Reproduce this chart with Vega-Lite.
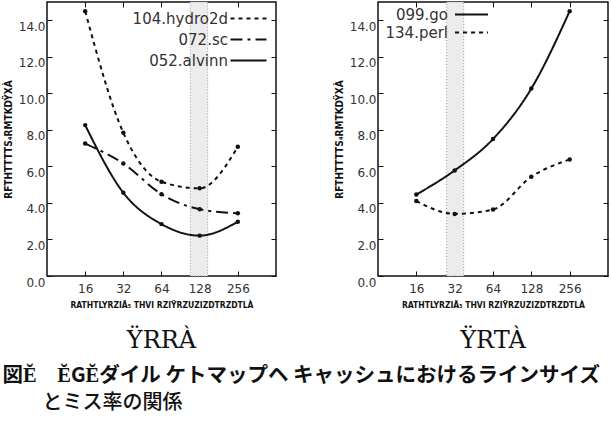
{
  "$schema": "https://vega.github.io/schema/vega-lite/v6.json",
  "padding": {"left": 2, "top": 0, "right": 0, "bottom": 0},
  "background": "white",
  "datasets": {
    "a": [
      {"size": 16, "missrate": 14.5, "bench": "104.hydro2d"},
      {"size": 32, "missrate": 7.84, "bench": "104.hydro2d"},
      {"size": 64, "missrate": 5.16, "bench": "104.hydro2d"},
      {"size": 128, "missrate": 4.8, "bench": "104.hydro2d"},
      {"size": 256, "missrate": 7.07, "bench": "104.hydro2d"},
      {"size": 16, "missrate": 7.25, "bench": "072.sc"},
      {"size": 32, "missrate": 6.16, "bench": "072.sc"},
      {"size": 64, "missrate": 4.48, "bench": "072.sc"},
      {"size": 128, "missrate": 3.65, "bench": "072.sc"},
      {"size": 256, "missrate": 3.43, "bench": "072.sc"},
      {"size": 16, "missrate": 8.26, "bench": "052.alvinn"},
      {"size": 32, "missrate": 4.56, "bench": "052.alvinn"},
      {"size": 64, "missrate": 2.84, "bench": "052.alvinn"},
      {"size": 128, "missrate": 2.21, "bench": "052.alvinn"},
      {"size": 256, "missrate": 2.97, "bench": "052.alvinn"}
    ],
    "b": [
      {"size": 16, "missrate": 4.46, "bench": "099.go"},
      {"size": 32, "missrate": 5.78, "bench": "099.go"},
      {"size": 64, "missrate": 7.5, "bench": "099.go"},
      {"size": 128, "missrate": 10.26, "bench": "099.go"},
      {"size": 256, "missrate": 14.5, "bench": "099.go"},
      {"size": 16, "missrate": 4.1, "bench": "134.perl"},
      {"size": 32, "missrate": 3.4, "bench": "134.perl"},
      {"size": 64, "missrate": 3.64, "bench": "134.perl"},
      {"size": 128, "missrate": 5.43, "bench": "134.perl"},
      {"size": 256, "missrate": 6.38, "bench": "134.perl"}
    ],
    "bandA": [{"lo": 108, "hi": 148}],
    "bandB": [{"lo": 27.7, "hi": 37.7}]
  },
  "title": {
    "text": "図Ĕ　ĔGĔダイル ケトマップヘ キャッシュにおけるラインサイズ",
    "subtitle": "\u200b\u3000\u3000とミス率の関係",
    "orient": "bottom",
    "anchor": "start",
    "font": "Noto Sans CJK JP",
    "fontSize": 20.5,
    "fontWeight": "bold",
    "color": "#111",
    "subtitleFont": "Noto Sans CJK JP",
    "subtitleFontSize": 20,
    "subtitleFontWeight": 500,
    "subtitleColor": "#111",
    "subtitlePadding": 6,
    "offset": 13
  },
  "spacing": 55,
  "resolve": {"scale": {"strokeDash": "independent"}, "legend": {"strokeDash": "independent"}},
  "hconcat": [
    {
      "width": 229,
      "height": 274,
      "title": {"text": "ŸRRÀ", "orient": "bottom", "font": "DejaVu Serif", "fontSize": 24, "fontWeight": "normal", "color": "#111", "offset": 20},
      "resolve": {"axis": {"x": "independent", "y": "independent"}},
      "layer": [
        {
          "data": {"name": "bandA"},
          "mark": {"type": "rect", "fill": "#ececec", "stroke": "#999", "strokeDash": [1, 2], "strokeWidth": 1},
          "encoding": {
            "x": {"field": "lo", "type": "quantitative", "axis": null},
            "x2": {"field": "hi"}
          }
        },
        {
          "data": {"name": "a"},
          "mark": {"type": "line", "interpolate": "monotone", "strokeWidth": 2, "color": "#111"},
          "encoding": {
            "x": {"field": "size", "type": "quantitative", "scale": {"type": "log", "base": 2, "domain": [8, 512]},
                  "axis": {"values": [16, 32, 64, 128, 256], "title": "RATHTLYRZIÄ₅ THVI RZIŸRZUZIZDTRZDTLÀ"}},
            "y": {"field": "missrate", "type": "quantitative", "scale": {"domain": [0, 15], "nice": false},
                  "axis": {"values": [0, 2, 4, 6, 8, 10, 12, 14], "format": ".1f", "title": "RFTHTTTTS₄RMTKDŸXÀ"}},
            "strokeDash": {"field": "bench", "type": "nominal",
              "scale": {"domain": ["104.hydro2d", "072.sc", "052.alvinn"], "range": [[4, 4], [12, 5, 3, 5], [1, 0]]},
              "legend": {"orient": "none", "legendX": 194, "legendY": 9, "symbolType": "M-3,0H3", "symbolSize": 144, "labelOffset": -28, "rowPadding": 5}}
          }
        },
        {
          "data": {"name": "a"},
          "mark": {"type": "point", "filled": true, "size": 20, "color": "#111", "opacity": 1},
          "encoding": {
            "x": {"field": "size", "type": "quantitative", "axis": {"orient": "top", "values": [16, 32, 64, 128, 256], "labels": false, "title": null}},
            "y": {"field": "missrate", "type": "quantitative", "axis": {"orient": "right", "values": [0, 2, 4, 6, 8, 10, 12, 14], "labels": false, "title": null}}
          }
        }
      ]
    },
    {
      "width": 230,
      "height": 274,
      "title": {"text": "ŸRTÀ", "orient": "bottom", "font": "DejaVu Serif", "fontSize": 24, "fontWeight": "normal", "color": "#111", "offset": 20},
      "resolve": {"axis": {"x": "independent", "y": "independent"}},
      "layer": [
        {
          "data": {"name": "bandB"},
          "mark": {"type": "rect", "fill": "#ececec", "stroke": "#999", "strokeDash": [1, 2], "strokeWidth": 1},
          "encoding": {
            "x": {"field": "lo", "type": "quantitative", "axis": null},
            "x2": {"field": "hi"}
          }
        },
        {
          "data": {"name": "b"},
          "mark": {"type": "line", "interpolate": "monotone", "strokeWidth": 2, "color": "#111"},
          "encoding": {
            "x": {"field": "size", "type": "quantitative", "scale": {"type": "log", "base": 2, "domain": [8, 512]},
                  "axis": {"values": [16, 32, 64, 128, 256], "title": "RATHTLYRZIÄ₅ THVI RZIŸRZUZIZDTRZDTLÀ"}},
            "y": {"field": "missrate", "type": "quantitative", "scale": {"domain": [0, 15], "nice": false},
                  "axis": {"values": [0, 2, 4, 6, 8, 10, 12, 14], "format": ".1f", "title": "RFTHTTTTS₄RMTKDŸXÀ"}},
            "strokeDash": {"field": "bench", "type": "nominal",
              "scale": {"domain": ["099.go", "134.perl"], "range": [[1, 0], [4, 4]]},
              "legend": {"orient": "none", "legendX": 86, "legendY": 5, "symbolType": "M-3,0H3", "symbolSize": 121, "labelOffset": -31, "rowPadding": 2}}
          }
        },
        {
          "data": {"name": "b"},
          "mark": {"type": "point", "filled": true, "size": 20, "color": "#111", "opacity": 1},
          "encoding": {
            "x": {"field": "size", "type": "quantitative", "axis": {"orient": "top", "values": [16, 32, 64, 128, 256], "labels": false, "title": null}},
            "y": {"field": "missrate", "type": "quantitative", "axis": {"orient": "right", "values": [0, 2, 4, 6, 8, 10, 12, 14], "labels": false, "title": null}}
          }
        }
      ]
    }
  ],
  "config": {
    "view": {"stroke": "#111", "strokeWidth": 1.5},
    "axis": {
      "domain": false,
      "grid": false,
      "tickSize": -5,
      "tickColor": "#111",
      "tickWidth": 1,
      "labelFont": "DejaVu Sans",
      "labelFontSize": 12,
      "labelColor": "#333",
      "titleFont": "DejaVu Sans Condensed, Liberation Sans",
      "titleFontWeight": "bold",
      "titleColor": "#111"
    },
    "axisX": {"labelPadding": 12, "titlePadding": 6, "titleFontSize": 8.5},
    "axisY": {"labelPadding": 7, "labelOffset": 6, "titlePadding": 5, "titleFontSize": 10},
    "legend": {
      "title": null,
      "labelAlign": "right",
      "labelFont": "DejaVu Sans",
      "labelFontSize": 15,
      "labelColor": "#333",
      "symbolStrokeColor": "#111",
      "symbolStrokeWidth": 2,
      "padding": 0
    }
  }
}
